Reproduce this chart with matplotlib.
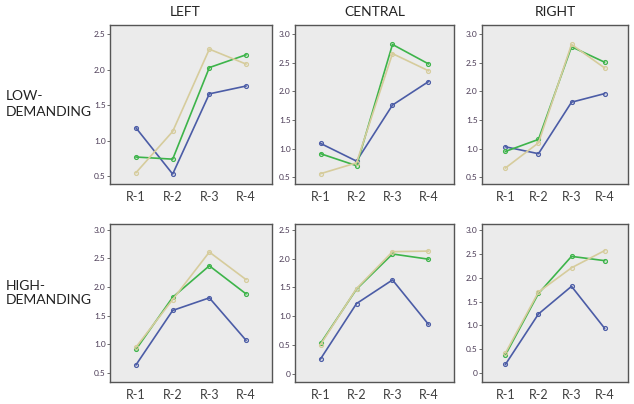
import matplotlib
matplotlib.use("Agg")
import matplotlib.pyplot as plt

plt.rcParams['font.family'] = ['Lato', 'DejaVu Sans']

rounds = ["R-1", "R-2", "R-3", "R-4"]
columns = ["LEFT", "CENTRAL", "RIGHT"]
rows = ["LOW-\nDEMANDING", "HIGH-\nDEMANDING"]

# low-demanding
low_left_blue = [1.18, 0.53, 1.66, 1.77]
low_left_green = [0.77, 0.74, 2.03, 2.21]
low_left_tan = [0.55, 1.13, 2.29, 2.08]
low_central_blue = [1.09, 0.78, 1.76, 2.17]
low_central_green = [0.91, 0.70, 2.82, 2.48]
low_central_tan = [0.56, 0.75, 2.66, 2.36]
low_right_blue = [1.03, 0.91, 1.81, 1.96]
low_right_green = [0.95, 1.16, 2.78, 2.51]
low_right_tan = [0.66, 1.10, 2.82, 2.41]

# high-demanding
high_left_blue = [0.64, 1.59, 1.81, 1.07]
high_left_green = [0.91, 1.82, 2.37, 1.88]
high_left_tan = [0.95, 1.78, 2.61, 2.13]
high_central_blue = [0.26, 1.22, 1.63, 0.86]
high_central_green = [0.53, 1.47, 2.08, 1.99]
high_central_tan = [0.51, 1.48, 2.12, 2.13]
high_right_blue = [0.18, 1.24, 1.82, 0.94]
high_right_green = [0.38, 1.67, 2.45, 2.36]
high_right_tan = [0.42, 1.70, 2.21, 2.57]

panels = [
    [(low_left_blue, low_left_green, low_left_tan),
     (low_central_blue, low_central_green, low_central_tan),
     (low_right_blue, low_right_green, low_right_tan)],
    [(high_left_blue, high_left_green, high_left_tan),
     (high_central_blue, high_central_green, high_central_tan),
     (high_right_blue, high_right_green, high_right_tan)],
]

# axes boxes in pixels: left, right, top, bottom
col_px = [(110, 272), (295, 454), (482, 628)]
row_px = [(25, 184), (224, 382)]
ylims = [[(0.39, 2.63), (0.38, 3.16), (0.38, 3.16)],
         [(0.34, 3.10), (-0.14, 2.60), (-0.19, 3.13)]]
yticks = [[[0.5, 1.0, 1.5, 2.0, 2.5], [0.5, 1.0, 1.5, 2.0, 2.5, 3.0], [0.5, 1.0, 1.5, 2.0, 2.5, 3.0]],
          [[0.5, 1.0, 1.5, 2.0, 2.5, 3.0], [0, 0.5, 1.0, 1.5, 2.0, 2.5], [0, 0.5, 1.0, 1.5, 2.0, 2.5, 3.0]]]

colors = ["#4b5ca6", "#3db44a", "#d6cc9c"]
W, H = 634, 404

fig = plt.figure(figsize=(6.34, 4.04), dpi=100)
x = [1, 2, 3, 4]

for r in range(2):
    for c in range(3):
        l, rr = col_px[c]
        t, b = row_px[r]
        ax = fig.add_axes([l / W, 1 - b / H, (rr - l) / W, (b - t) / H])
        ax.set_facecolor("#ebebeb")
        for series, col in zip(panels[r][c], colors):
            ax.plot(x, series, color=col, lw=1.2, marker="o", ms=2.8,
                    mfc="none", mew=0.9)
        ax.set_xlim(0.29, 4.71)
        ax.set_ylim(*ylims[r][c])
        ax.set_xticks(x)
        ax.set_xticklabels(rounds, fontsize=9, color="#404040")
        ax.set_yticks(yticks[r][c])
        ax.set_yticklabels(["0" if v == 0 else f"{v:.1f}" for v in yticks[r][c]],
                           fontsize=6, color="#4a3a55")
        ax.tick_params(axis="y", length=2, width=0.6, pad=1, color="#555555")
        ax.tick_params(axis="x", length=0, pad=5)
        for s in ax.spines.values():
            s.set_color("#555555")
            s.set_linewidth(1.0)

title_x = [185, 375, 555]
for name, tx in zip(columns, title_x):
    fig.text(tx / W, 1 - 12 / H, name, ha="center", va="center", fontsize=10, color="#222222")

row_y = [104, 293]
for name, ty in zip(rows, row_y):
    fig.text(6 / W, 1 - ty / H, name, ha="left", va="center", fontsize=10,
             color="#222222", linespacing=1.3)

fig.savefig("out.png", dpi=100)
